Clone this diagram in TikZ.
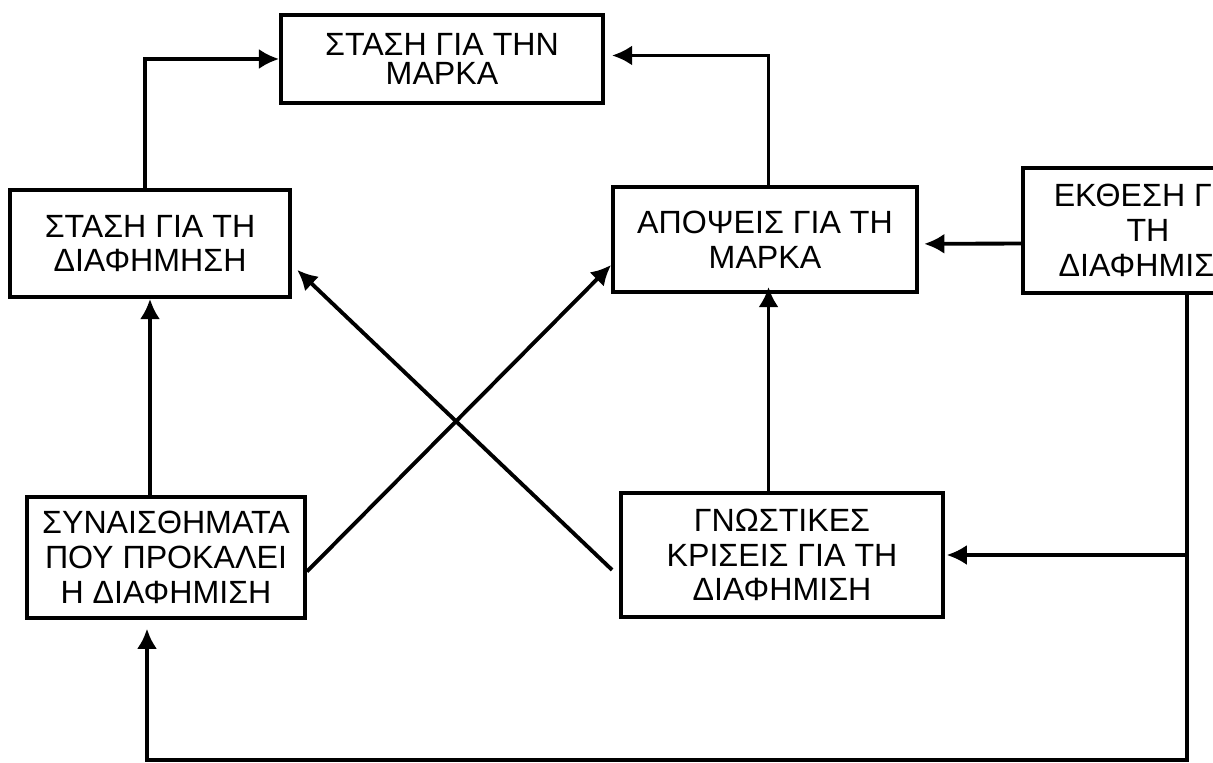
\documentclass[tikz,border=0pt]{standalone}
\usepackage{fontspec}
\setmainfont{Liberation Sans}
\usetikzlibrary{calc,arrows.meta}

\tikzset{
	box/.style={draw, line width=2.2pt, align=center, inner sep=0pt,
		font=\fontsize{18.3}{19.8}\selectfont},
	flow/.style={->, line width=2.2pt}
}

\begin{document}
\begin{tikzpicture}[x=0.02cm, y=-0.02cm, >={Latex[length=11.5pt,width=11.5pt]}]
	% fix the page to the size of the scan
	\useasboundingbox (0,0) rectangle (1213,763);
	\clip (0,0) rectangle (1213,763);

	% define the boxes
	\node[box, font=\fontsize{18.3}{17}\selectfont,
		minimum width=6.44cm, minimum height=1.76cm] (marka) at (442,59)
		{ΣΤΑΣΗ ΓΙΑ ΤΗΝ\\ΜΑΡΚΑ};
	\node[box, minimum width=5.6cm, minimum height=2.14cm] (stasediaf) at (150,243.5)
		{ΣΤΑΣΗ ΓΙΑ ΤΗ\\ΔΙΑΦΗΜΗΣΗ};
	\node[box, minimum width=6.08cm, minimum height=2.1cm] (apopseis) at (765,239.5)
		{ΑΠΟΨΕΙΣ ΓΙΑ ΤΗ\\ΜΑΡΚΑ};
	\node[box, minimum width=5cm, minimum height=2.5cm] (ekthesi) at (1148,230.5)
		{ΕΚΘΕΣΗ ΓΙΑ\\ΤΗ\\ΔΙΑΦΗΜΙΣΗ};
	\node[box, minimum width=5.56cm, minimum height=2.42cm] (synais) at (166,557.5)
		{ΣΥΝΑΙΣΘΗΜΑΤΑ\\ΠΟΥ ΠΡΟΚΑΛΕΙ\\Η ΔΙΑΦΗΜΙΣΗ};
	\node[box, minimum width=6.44cm, minimum height=2.48cm] (gnostikes) at (782,555)
		{ΓΝΩΣΤΙΚΕΣ\\ΚΡΙΣΕΙΣ ΓΙΑ ΤΗ\\ΔΙΑΦΗΜΙΣΗ};

	% define the corners of the feedback line
	\coordinate (R) at (1187,760);
	\coordinate (L) at (147,760);

	% arrows into the top box
	\draw[flow] ([xshift=-3pt]stasediaf.north) |- (marka.west);
	\draw[flow] ([xshift=2pt]apopseis.north) |- ([xshift=4pt,yshift=2pt]marka.east);

	% straight arrows
	\draw[flow] (stasediaf.south |- synais.north) -- (stasediaf.south);
	\draw[flow] ([xshift=2pt]apopseis.south |- gnostikes.north) -- ([xshift=2pt,yshift=4pt]apopseis.south);
	\draw[flow] (ekthesi.west |- apopseis.east) ++(0,4) -- ([xshift=3pt,yshift=-2.5pt]apopseis.east);

	% the two crossing arrows
	\draw[flow] ([yshift=-8pt]synais.east) -- ([yshift=-14.5pt]apopseis.west);
	\draw[flow] ([xshift=-4pt,yshift=-8.5pt]gnostikes.west) -- ([xshift=3pt,yshift=-15pt]stasediaf.east);

	% feedback from the exposure box
	\draw[flow] (ekthesi.south -| R) -- (R) -- (L) -- ([yshift=-5pt]L |- synais.south);
	\draw[flow] (gnostikes.east -| R) -- ([xshift=1pt]gnostikes.east);
\end{tikzpicture}
\end{document}
